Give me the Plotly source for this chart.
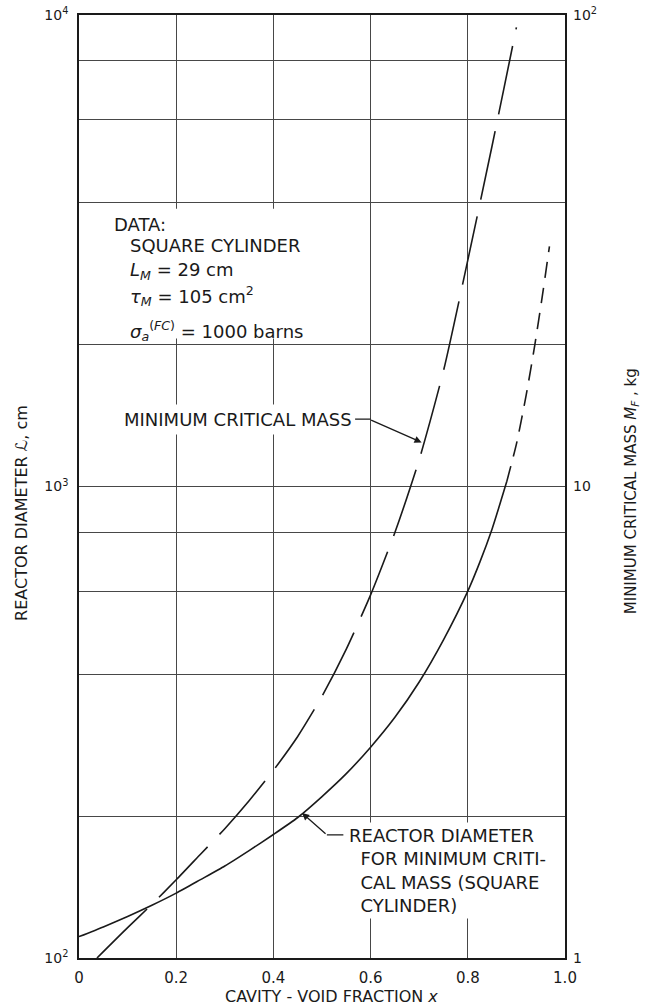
import math
import plotly.graph_objects as go

# Reactor diameter (cm) versus cavity-void fraction, solid branch
void_frac_diam = [0.0, 0.05, 0.1, 0.15, 0.2, 0.25, 0.3, 0.35, 0.4, 0.45, 0.5, 0.55,
                  0.6, 0.65, 0.7, 0.75, 0.8, 0.825, 0.85, 0.865, 0.88]
diameter_cm = [111, 116.4, 122.5, 129.4, 137.3, 146.6, 156.7, 169, 182.8, 198.6, 220, 246,
               280, 324, 385, 473, 600, 692, 813, 910, 1023]

# Extrapolated (dashed) branch of the reactor diameter curve
void_frac_diam_ext = [0.88, 0.9, 0.92, 0.938, 0.953, 0.968]
diameter_cm_ext = [1023, 1230, 1560, 2000, 2520, 3230]

# Minimum critical mass (kg) versus cavity-void fraction
void_frac_mass = [0.037, 0.1, 0.15, 0.2, 0.25, 0.3, 0.35, 0.4, 0.45, 0.5, 0.55,
                  0.6, 0.65, 0.7, 0.75, 0.8, 0.85, 0.875, 0.9]
mass_kg = [1.0, 1.16, 1.30, 1.465, 1.66, 1.88, 2.155, 2.50, 2.95, 3.59, 4.52,
           5.89, 7.99, 11.4, 17.6, 30.2, 52.8, 70.4, 94.1]

x_ticks = [0.0, 0.2, 0.4, 0.6, 0.8, 1.0]
x_tick_text = ["0", "0.2", "0.4", "0.6", "0.8", "1.0"]
y_grid = [100, 200, 400, 600, 800, 1000, 2000, 4000, 6000, 8000, 10000]
y_grid_text = ["10<sup>2</sup>", "", "", "", "", "10<sup>3</sup>", "", "", "", "", "10<sup>4</sup>"]
y2_ticks = [1, 10, 100]
y2_tick_text = ["1", "10", "10<sup>2</sup>"]

FONT = "DejaVu Sans"
INK = "#1a1a1a"
GRID = "#474747"

fig = go.Figure()

fig.add_trace(go.Scatter(
    x=void_frac_diam, y=diameter_cm, mode="lines",
    line=dict(color=INK, width=1.6, shape="spline", smoothing=0.6),
    showlegend=False, hoverinfo="skip"))
fig.add_trace(go.Scatter(
    x=void_frac_diam_ext, y=diameter_cm_ext, mode="lines",
    line=dict(color=INK, width=1.6, dash="16px,10px", shape="spline", smoothing=0.6),
    showlegend=False, hoverinfo="skip"))
fig.add_trace(go.Scatter(
    x=void_frac_mass, y=mass_kg, mode="lines", yaxis="y2",
    line=dict(color=INK, width=1.6, dash="70px,17px", shape="spline", smoothing=0.6),
    showlegend=False, hoverinfo="skip"))

# white panel behind the data block
fig.add_shape(type="rect", xref="x", yref="y", x0=0.004, x1=0.5, y0=2060, y1=3880,
              fillcolor="white", line=dict(width=0), layer="above")

ann_font = dict(family=FONT, size=18, color=INK)
L = lambda v: math.log10(v)

data_lines = [
    ("DATA:", 0.068, L(3590)),
    ("SQUARE CYLINDER", 0.101, L(3240)),
    ("<i>L<sub>M</sub></i> = 29 cm", 0.101, L(2870)),
    ("<i>τ<sub>M</sub></i> = 105 cm<sup>2</sup>", 0.101, L(2530)),
    ("<i>σ<sub>a</sub></i><sup>(<i>FC</i>)</sup> = 1000 barns", 0.101, L(2140)),
]
for txt, xx, yy in data_lines:
    fig.add_annotation(x=xx, y=yy, xref="x", yref="y", text=txt, showarrow=False,
                       xanchor="left", yanchor="middle", font=ann_font)

# Minimum critical mass label with leader
fig.add_annotation(x=0.572, y=L(1390), xref="x", yref="y", text="MINIMUM CRITICAL MASS",
                   showarrow=False, xanchor="right", yanchor="middle", font=ann_font,
                   bgcolor="white", borderpad=4)
fig.add_annotation(x=0.60, y=L(1390), xref="x", yref="y", text="", showarrow=True,
                   arrowhead=0, arrowwidth=1.3, arrowcolor=INK, ax=-17, ay=0)
fig.add_annotation(x=0.705, y=L(1240), xref="x", yref="y", text="", showarrow=True,
                   arrowhead=2, arrowsize=1.1, arrowwidth=1.3, arrowcolor=INK, ax=-52, ay=-23)

# Reactor diameter label with leader
fig.add_annotation(x=0.55, y=2.288, xref="x", yref="y",
                   text="REACTOR DIAMETER<br>&nbsp;&nbsp;FOR MINIMUM CRITI-<br>&nbsp;&nbsp;CAL MASS (SQUARE<br>&nbsp;&nbsp;CYLINDER)",
                   showarrow=False, xanchor="left", yanchor="top", align="left",
                   font=ann_font, bgcolor="white", borderpad=2)
fig.add_annotation(x=0.51, y=2.261, xref="x", yref="y", text="", showarrow=True,
                   arrowhead=0, arrowwidth=1.3, arrowcolor=INK, ax=18, ay=0)
fig.add_annotation(x=0.459, y=L(203), xref="x", yref="y", text="", showarrow=True,
                   arrowhead=2, arrowsize=1.1, arrowwidth=1.3, arrowcolor=INK, ax=25, ay=22)

# axis titles
fig.add_annotation(xref="paper", yref="paper", x=0, y=0.472, xshift=-57,
                   text="REACTOR DIAMETER <i>ℒ</i>, cm", textangle=-90, showarrow=False,
                   xanchor="center", yanchor="middle", font=dict(family=FONT, size=16, color=INK))
fig.add_annotation(xref="paper", yref="paper", x=1, y=0.495, xshift=66,
                   text="MINIMUM CRITICAL MASS <i>M<sub>F</sub></i> , kg", textangle=-90,
                   showarrow=False, xanchor="center", yanchor="middle",
                   font=dict(family=FONT, size=15, color=INK))
fig.add_annotation(xref="paper", yref="paper", x=0.52, y=0, yshift=-38,
                   text="CAVITY - VOID FRACTION <i>x</i>", showarrow=False,
                   xanchor="center", yanchor="middle", font=dict(family=FONT, size=16, color=INK))

fig.update_layout(
    width=650, height=1005,
    margin=dict(l=79, r=85, t=15, b=47, autoexpand=False),
    paper_bgcolor="white", plot_bgcolor="white",
    xaxis=dict(range=[0, 1], tickvals=x_ticks, ticktext=x_tick_text, showgrid=True,
               gridcolor=GRID, gridwidth=1.1, showline=True, mirror=True, linecolor=INK,
               linewidth=1.6, ticks="", ticklabelstandoff=5,
               tickfont=dict(family=FONT, size=15, color=INK),
               zeroline=False, fixedrange=True),
    yaxis=dict(type="log", range=[2, 4], tickvals=y_grid, ticktext=y_grid_text, showgrid=True,
               gridcolor=GRID, gridwidth=1.1, showline=True, mirror=True, linecolor=INK,
               linewidth=1.6, ticks="", ticklabelstandoff=6,
               tickfont=dict(family=FONT, size=14, color=INK),
               zeroline=False, fixedrange=True),
    yaxis2=dict(type="log", range=[0, 2], overlaying="y", side="right", tickvals=y2_ticks,
                ticktext=y2_tick_text, showgrid=False, showline=False, ticks="",
                ticklabelstandoff=7, tickfont=dict(family=FONT, size=14, color=INK),
                zeroline=False, fixedrange=True),
)

fig.write_html("out.html")
